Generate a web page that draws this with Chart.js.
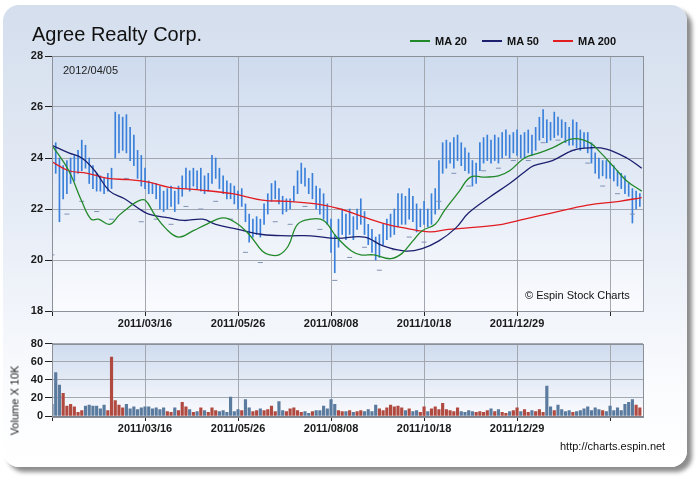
<!DOCTYPE html>
<html>
<head>
<meta charset="utf-8">
<script src="https://cdn.jsdelivr.net/npm/chart.js@4.4.1/dist/chart.umd.min.js"></script>
<style>
  body { margin: 0; width: 700px; height: 480px; overflow: hidden; background: #fff; font-family: "Liberation Sans", Arial, sans-serif; }
  #panel { position: absolute; left: 3px; top: 5px; width: 684px; height: 462px; border-radius: 16px;
           background: linear-gradient(#d4deed, #e6ecf6 45%, #fbfcfe 85%, #fff); box-shadow: 5px 5px 4px #8d8d8d; }
  canvas { position: absolute; left: 0; }
  .txt { position: absolute; white-space: nowrap; color: #111; }
  #title { left: 32px; top: 24px; font-size: 20px; line-height: 20px; }
  #date { left: 63px; top: 65px; font-size: 11px; line-height: 11px; color: #222; }
  #copy { left: 525px; top: 290px; font-size: 11px; line-height: 11px; }
  #url { left: 560px; top: 441px; font-size: 11px; line-height: 11px; }
  #vlabel { left: -20px; top: 395px; width: 70px; text-align: center; font-size: 11px; line-height: 11px; color: #222; transform: rotate(-90deg); }
  .leg { position: absolute; top: 36px; font-size: 11px; font-weight: bold; line-height: 11px; color: #111; }
  .leg i { display: inline-block; width: 20px; height: 2px; vertical-align: 3px; margin-right: 5px; }
</style>
</head>
<body>
<div id="panel"></div>
<canvas id="price" width="700" height="340" style="top:0"></canvas>
<canvas id="volume" width="700" height="110" style="top:330px"></canvas>
<div class="txt" id="title">Agree Realty Corp.</div>
<div class="leg" style="left:410px"><i style="background:#22892b"></i>MA 20</div>
<div class="leg" style="left:482px"><i style="background:#1b1f6e"></i>MA 50</div>
<div class="leg" style="left:553px"><i style="background:#e11d22"></i>MA 200</div>
<div class="txt" id="date">2012/04/05</div>
<div class="txt" id="copy">© Espin Stock Charts</div>
<div class="txt" id="url">http://charts.espin.net</div>
<div class="txt" id="vlabel">Volume X 10K</div>
<script>
// trading-day index of the axis ticks and their labels
const tickDays = [0, 50, 100, 150, 200, 250, 300];
const tickLabels = ['', '2011/03/16', '2011/05/26', '2011/08/08', '2011/10/18', '2011/12/29', ''];

// one bar every 2 trading days, from 2011/01 to 2012/04/05
const highs = [
  26.3, 24.6, 24.0, 23.7, 23.9, 24.0, 24.1, 24.3, 24.7, 24.5,
  24.0, 23.7, 23.4, 23.3, 23.2, 23.4, 23.6, 25.8, 25.7, 25.6,
  25.7, 25.2, 24.9, 24.3, 24.1, 23.6, 23.1, 23.0, 23.0, 22.9,
  22.7, 22.8, 22.9, 22.7, 22.9, 23.3, 23.6, 23.5, 23.6, 23.5,
  23.6, 23.3, 23.4, 24.1, 24.0, 23.6, 23.3, 23.1, 23.0, 22.9,
  22.7, 22.8, 22.2, 21.8, 21.6, 21.7, 21.6, 22.2, 22.6, 23.0,
  23.1, 22.8, 22.5, 22.4, 22.4, 22.9, 23.5, 23.8, 23.6, 23.2,
  23.4, 22.9, 22.8, 22.6, 22.2, 21.6, 21.0, 21.6, 22.0, 21.8,
  22.0, 21.7, 22.0, 22.4, 21.9, 21.4, 21.2, 20.9, 21.0, 21.4,
  21.6, 21.8, 22.0, 22.6, 22.6, 22.5, 22.8, 22.5, 22.2, 22.0,
  22.3, 22.0, 22.6, 22.8, 23.9, 24.6, 24.7, 24.6, 24.8, 24.9,
  24.6, 24.4, 24.2, 23.9, 23.8, 24.6, 24.8, 24.9, 24.7, 24.9,
  24.8, 25.0, 25.1, 24.9, 25.0, 25.1, 24.9, 25.0, 25.1, 24.9,
  25.2, 25.6, 25.9, 25.5, 25.4, 25.8, 25.6, 25.5, 25.4, 25.2,
  25.5, 25.4, 25.1, 25.0, 25.0, 24.6, 24.2, 24.0, 23.9, 23.9,
  23.8, 23.7, 23.5, 23.4, 23.3, 23.0, 22.8, 22.7, 22.6
];
const lows = [
  24.2, 23.4, 21.5, 22.4, 22.6, 23.0, 23.1, 23.4, 23.5, 23.6,
  23.0, 22.8, 22.7, 22.7, 22.6, 22.7, 22.8, 24.0, 24.2, 24.3,
  24.2, 23.9, 23.7, 23.2, 22.9, 22.8, 22.6, 22.6, 22.4, 22.0,
  21.9, 22.0, 22.1, 21.9, 22.2, 22.5, 22.8, 22.7, 22.9, 22.8,
  22.7, 22.6, 22.7, 23.0, 23.2, 22.8, 22.6, 22.4, 22.4, 22.2,
  22.0, 22.1, 21.5, 20.7, 20.9, 21.0, 20.9, 21.4, 21.8, 22.3,
  22.4, 22.2, 21.8, 21.9, 22.0, 22.3, 22.6, 23.0, 22.9, 22.6,
  22.4, 22.0, 21.8, 21.6, 21.4, 20.3, 19.5, 20.5, 21.0, 20.8,
  21.0, 20.8, 21.2, 21.4, 21.0, 20.6, 20.3, 20.0, 20.1, 20.6,
  20.8, 20.9, 21.0, 21.3, 21.4, 21.4, 21.6, 21.5, 21.1, 21.3,
  21.4, 21.3, 21.4, 21.8, 22.0, 23.4, 23.6, 23.8, 23.6, 23.9,
  23.7, 23.5, 23.4, 22.9, 23.0, 23.5, 23.8, 23.9, 23.8, 23.9,
  23.8, 24.0, 24.1, 24.0, 24.2, 24.1, 24.0, 24.0, 24.2, 24.1,
  24.3, 24.7, 24.8, 24.6, 24.7, 24.8, 24.9, 24.8, 24.6, 24.5,
  24.5, 24.4, 24.3, 24.4, 24.2, 23.8, 23.4, 23.2, 23.3, 23.2,
  23.2, 23.1, 22.9, 22.8, 22.6, 22.5, 21.45, 22.0, 22.1
];
// volume in units of 10K shares, same days as the bars
const volumes = [
  13, 48, 34, 25, 11, 13, 10, 4, 6, 11,
  12, 11, 11, 8, 12, 6, 65, 17, 12, 9,
  13, 8, 10, 7, 9, 10, 10, 8, 9, 7,
  9, 5, 4, 9, 6, 15, 10, 7, 4, 5,
  9, 6, 4, 9, 6, 5, 6, 4, 21, 5,
  7, 6, 18, 9, 5, 6, 8, 6, 7, 11,
  5, 16, 6, 5, 8, 9, 6, 4, 5, 3,
  5, 6, 6, 11, 8, 18, 13, 6, 5, 5,
  6, 4, 5, 6, 5, 7, 5, 12, 8, 6,
  9, 12, 10, 11, 9, 6, 8, 5, 6, 4,
  10, 5, 8, 10, 7, 14, 7, 6, 5, 9,
  5, 4, 6, 5, 4, 5, 4, 6, 8, 5,
  7, 4, 3, 5, 6, 9, 5, 7, 4, 6,
  5, 7, 4, 33, 10, 6, 12, 7, 5, 6,
  4, 5, 6, 8, 10, 6, 9, 7, 6, 5,
  11, 6, 9, 6, 13, 15, 18, 12, 9
];

// moving averages read at these trading days
const ma20Days = [0, 9, 16, 21, 25, 31, 36, 41, 46, 50, 55, 61, 68, 76, 83, 92, 99, 106, 113, 117,
  122, 127, 132, 139, 146, 153, 161, 166, 173, 182, 188, 194, 199, 206, 211, 219, 225, 233, 240, 246,
  254, 262, 269, 280, 289, 295, 302, 309, 317];
const ma20 = [24.5, 23.5, 22.3, 21.6, 21.6, 21.4, 21.75, 22.05, 22.3, 22.35, 21.8, 21.25, 20.9, 21.15, 21.4, 21.65, 21.45, 21.0, 20.35, 20.2,
  20.2, 20.55, 21.4, 21.6, 21.55, 20.9, 20.35, 20.2, 20.2, 20.05, 20.25, 20.75, 21.15, 21.4, 21.95, 22.7, 23.25, 23.25, 23.3, 23.5,
  24.0, 24.2, 24.4, 24.75, 24.6, 24.2, 23.65, 23.1, 22.7];
const ma50Days = [0, 9, 16, 23, 31, 39, 46, 52, 63, 71, 81, 88, 100, 113, 127, 139, 153, 168, 178, 190,
  199, 208, 217, 224, 235, 246, 254, 259, 269, 280, 289, 298, 309, 317];
const ma50 = [24.5, 24.2, 24.0, 23.5, 22.7, 22.4, 22.05, 21.8, 21.65, 21.55, 21.6, 21.4, 21.2, 21.0, 20.95, 20.95, 20.85, 20.9, 20.55, 20.35,
  20.45, 20.75, 21.25, 21.85, 22.45, 23.0, 23.45, 23.7, 23.9, 24.3, 24.4, 24.35, 24.0, 23.6];
const ma200Days = [0, 9, 19, 30, 41, 52, 63, 79, 97, 113, 127, 142, 155, 169, 180, 190, 203, 213, 230, 242,
  254, 269, 288, 305, 317];
const ma200 = [23.85, 23.5, 23.4, 23.2, 23.15, 23.05, 22.85, 22.75, 22.6, 22.35, 22.3, 22.2, 22.0, 21.65, 21.4, 21.25, 21.1, 21.2, 21.3, 21.4,
  21.6, 21.85, 22.15, 22.3, 22.45];

// the small grey dashes under the bars, every 8 trading days
const dashDays = [0, 8, 16, 24, 32, 40, 48, 56, 64, 72, 80, 88, 96, 104, 112, 120, 128, 136, 144, 152,
  160, 168, 176, 184, 192, 200, 208, 216, 224, 232, 240, 248, 256, 264, 272, 280, 288, 296, 304, 312];
const dashes = [20.2, 21.8, 22.3, 21.9, 21.6, 23.2, 21.5, 21.6, 21.4, 22.1, 22.0, 22.3, 21.6, 20.3, 19.9, 21.5, 21.4, 22.1, 21.2, 19.2,
  20.1, 20.5, 19.6, 20.4, 20.9, 20.7, 22.3, 23.4, 22.9, 23.5, 23.6, 23.9, 23.9, 24.6, 24.7, 24.3, 23.8, 22.9, 22.6, 21.8];

const barDays = highs.map((h, i) => i * 2);
const pts = (xs, ys) => ys.map((y, i) => ({ x: xs[i], y }));

const gridColor = '#a3a8b0';
const tickFont = { family: '"Liberation Sans", Arial, sans-serif', size: 11, weight: 'bold' };

// light blue to white fill of the plotting area, with a frame
const areaFill = {
  id: 'areaFill',
  beforeDraw(chart) {
    const { ctx, chartArea: a } = chart;
    const g = ctx.createLinearGradient(0, a.top, 0, a.bottom);
    g.addColorStop(0, '#cedbee');
    g.addColorStop(1, '#fafbfe');
    ctx.save();
    ctx.fillStyle = g;
    ctx.fillRect(a.left, a.top, a.width, a.height);
    ctx.restore();
  },
  afterDraw(chart) {
    const { ctx, chartArea: a } = chart;
    ctx.save();
    ctx.strokeStyle = '#8b9099';
    ctx.lineWidth = 1;
    ctx.strokeRect(Math.round(a.left) + 0.5, Math.round(a.top) + 0.5, Math.round(a.width), Math.round(a.height));
    ctx.restore();
  }
};

function xScale(height) {
  return {
    type: 'linear',
    min: 0,
    max: 317.7,
    offset: false,
    afterBuildTicks: (s) => { s.ticks = tickDays.map((v) => ({ value: v })); },
    afterFit: (s) => { s.height = height; },
    ticks: {
      autoSkip: false,
      maxRotation: 0,
      padding: 1,
      color: '#1a1a1a',
      font: tickFont,
      callback: (v) => tickLabels[tickDays.indexOf(v)] || '',
    },
    grid: { color: gridColor, tickColor: '#222', tickLength: 5, offset: false },
    border: { color: '#7d828b' },
  };
}

function yScale(min, max, step) {
  return {
    min,
    max,
    afterFit: (s) => { s.width = 52; },
    ticks: { stepSize: step, padding: 2, color: '#1a1a1a', font: tickFont },
    grid: { color: gridColor, tickColor: '#222', tickLength: 7 },
    border: { color: '#7d828b' },
  };
}

const line = (label, xs, ys, color, order) => ({
  type: 'line',
  label,
  data: pts(xs, ys),
  borderColor: color,
  borderWidth: 1.3,
  pointRadius: 0,
  tension: 0.4,
  order,
});

new Chart(document.getElementById('price'), {
  type: 'bar',
  data: {
    datasets: [
      line('MA 20', ma20Days, ma20, '#22892b', 0),
      line('MA 50', ma50Days, ma50, '#1b1f6e', 1),
      line('MA 200', ma200Days, ma200, '#e11d22', 2),
      {
        type: 'line',
        label: 'band',
        data: pts(dashDays, dashes),
        showLine: false,
        pointStyle: 'line',
        pointRadius: 2.5,
        borderColor: '#8192b4',
        borderWidth: 1,
        order: 4,
      },
      {
        label: 'price',
        data: highs.map((h, i) => ({ x: barDays[i], y: [lows[i], h] })),
        backgroundColor: '#3a80da',
        barThickness: 1,
        grouped: false,
        order: 5,
      },
    ],
  },
  options: {
    responsive: false,
    animation: false,
    layout: { padding: { left: 0, right: 57, top: 56, bottom: 0 } },
    scales: { x: xScale(29), y: yScale(18, 28, 2) },
    plugins: { legend: { display: false }, tooltip: { enabled: false } },
  },
  plugins: [areaFill],
});

new Chart(document.getElementById('volume'), {
  type: 'bar',
  data: {
    datasets: [
      {
        label: 'volume',
        data: volumes.map((v, i) => ({ x: barDays[i], y: v })),
        backgroundColor: volumes.map((v, i) =>
          i > 0 && highs[i] + lows[i] >= highs[i - 1] + lows[i - 1] ? '#b04a40' : '#5a7a9e'),
        barThickness: 2.5,
        grouped: false,
      },
    ],
  },
  options: {
    responsive: false,
    animation: false,
    layout: { padding: { left: 0, right: 57, top: 13.5, bottom: 0 } },
    scales: { x: xScale(24), y: yScale(0, 80, 20) },
    plugins: { legend: { display: false }, tooltip: { enabled: false } },
  },
  plugins: [areaFill],
});
</script>
</body>
</html>
